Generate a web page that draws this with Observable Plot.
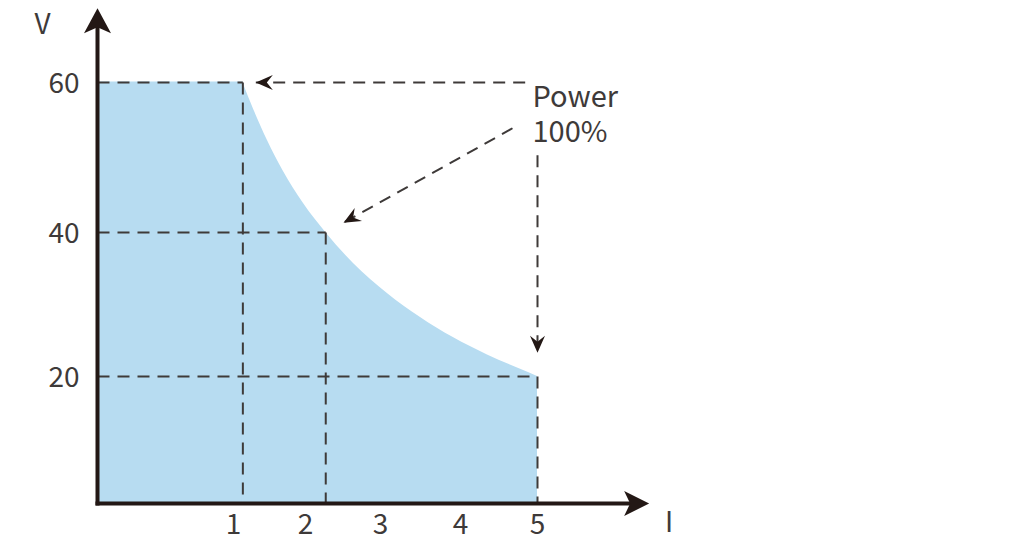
<!DOCTYPE html>
<html>
<head>
<meta charset="utf-8">
<script src="https://cdn.jsdelivr.net/npm/d3@7"></script>
<script src="https://cdn.jsdelivr.net/npm/@observablehq/plot@0.6"></script>
<style>
  html, body { margin: 0; padding: 0; background: #fff; }
  #chart svg { display: block; }
</style>
</head>
<body>
<div id="chart"></div>
<script>
// ---- data (schematic V–I operating envelope) ----
const xTickValues = [1, 2, 3, 4, 5];          // current I tick labels
const yTickValues = [20, 40, 60];             // voltage V tick labels
// boundary of the operating area: constant 60 V up to the corner, then the power curve
const flatI = [0, 1.13];
const flatV = [60, 60];
const curveI = [1.13, 1.28, 1.47, 1.69, 1.97, 2.27, 2.64, 3.09, 3.5, 3.91, 4.35, 4.78, 5];
const curveV = [60, 56.4, 52.3, 48.2, 43.9, 40, 35.7, 31.5, 28.2, 25.4, 23.0, 21.0, 20];
// highlighted corner points (dashed guides)
const cornerI = [1.13, 2.27, 5];
const cornerV = [60, 40, 20];
// "Power 100%" annotation arrows: start -> tip
const arrowFromI = [4.84, 4.675, 5];
const arrowFromV = [60, 53.9, 50.3];
const arrowToI = [1.31, 2.507, 5];
const arrowToV = [60, 41.3, 23.3];
const labelText = "Power\n100%";
const labelI = 4.935;
const labelV = 55.9;
// axis extents (arrow tips)
const axisMaxI = 6.45;
const axisMaxV = 69.9;

// ---- scales (piecewise, schematic spacing) ----
const xDomain = [0, 1, 2, 3, 4, 5];
const xRange = [97, 233, 305, 380, 460, 537];
const yDomain = [0, 20, 40, 60];
const yRange = [503, 376, 232, 82];
const xs = d3.scaleLinear(xDomain, xRange);
const ys = d3.scaleLinear(yDomain, yRange);

const flat = flatI.map((I, i) => ({I, V: flatV[i]}));
const curve = curveI.map((I, i) => ({I, V: curveV[i]}));
const corners = cornerI.map((I, i) => ({I, V: cornerV[i]}));
const arrows = arrowFromI.map((I, i) => ({x1: I, y1: arrowFromV[i], x2: arrowToI[i], y2: arrowToV[i]}));

const FILL = "#b7dcf1";
const AXIS = "#231815";
const INK = "#3e3a39";
const FONT = "'Noto Sans CJK SC', 'Noto Sans', sans-serif";

// notched arrowhead symbol, tip at origin, pointing along (ux, uy) in pixels
function arrowSymbol(ux, uy, L, W, N) {
  const m = Math.hypot(ux, uy); ux /= m; uy /= m;
  const nx = -uy, ny = ux;
  return {
    draw(ctx) {
      ctx.moveTo(0, 0);
      ctx.lineTo(-L * ux + W / 2 * nx, -L * uy + W / 2 * ny);
      ctx.lineTo(-N * ux, -N * uy);
      ctx.lineTo(-L * ux - W / 2 * nx, -L * uy - W / 2 * ny);
      ctx.closePath();
    }
  };
}
function dirOf(a) {
  return [xs(a.x2) - xs(a.x1), ys(a.y2) - ys(a.y1)];
}

const marks = [
  // filled operating area
  Plot.areaY(flat, {x: "I", y: "V", fill: FILL, stroke: FILL, strokeWidth: 1, curve: "linear"}),
  Plot.areaY(curve, {x: "I", y: "V", fill: FILL, curve: "monotone-x"}),
  // dashed guides
  Plot.link(corners, {x1: 0, y1: "V", x2: "I", y2: "V", stroke: INK, strokeWidth: 2, strokeDasharray: "12,8"}),
  Plot.link(corners, {x1: "I", y1: "V", x2: "I", y2: 0, stroke: INK, strokeWidth: 2, strokeDasharray: "12,8"}),
  // annotation arrows
  Plot.link(arrows, {x1: "x1", y1: "y1", x2: "x2", y2: "y2", stroke: INK, strokeWidth: 2, strokeDasharray: "12,8"}),
  ...arrows.map(a => {
    const [dx, dy] = dirOf(a);
    return Plot.dot([a], {x: "x2", y: "y2", r: 6, fill: AXIS, stroke: "none",
      symbol: arrowSymbol(dx, dy, 17, 15, 11)});
  }),
  // axes
  Plot.link([{a: 0}], {x1: 0, y1: 0, x2: axisMaxI - 0.2, y2: 0, stroke: AXIS, strokeWidth: 4, strokeLinecap: "square"}),
  Plot.link([{a: 0}], {x1: 0, y1: 0, x2: 0, y2: axisMaxV - 2.5, stroke: AXIS, strokeWidth: 4, strokeLinecap: "square"}),
  Plot.dot([{I: axisMaxI, V: 0}], {x: "I", y: "V", r: 8, fill: AXIS, stroke: "none", symbol: arrowSymbol(1, 0, 25, 25, 19)}),
  Plot.dot([{I: 0, V: axisMaxV}], {x: "I", y: "V", r: 8, fill: AXIS, stroke: "none", symbol: arrowSymbol(0, -1, 25, 27, 19)}),
  // tick labels
  Plot.text(xTickValues, {x: d => d, y: 0, text: d => String(d), dy: 22, fill: INK, fontSize: 28, fontFamily: FONT, lineAnchor: "middle"}),
  Plot.text(yTickValues, {x: 0, y: d => d, text: d => String(d), dx: -18, dy: 2, textAnchor: "end", fill: INK, fontSize: 28, fontFamily: FONT, lineAnchor: "middle"}),
  // axis titles
  Plot.text(["V"], {x: 0, y: 67.7, text: d => d, dx: -55, fill: INK, fontSize: 28, fontFamily: FONT, lineAnchor: "middle"}),
  Plot.text(["I"], {x: axisMaxI, y: 0, text: d => d, dx: 20, dy: 20, fill: INK, fontSize: 28, fontFamily: FONT, lineAnchor: "middle"}),
  // annotation label
  Plot.text([labelText], {x: labelI, y: labelV, text: d => d, textAnchor: "start", fill: INK, fontSize: 29, lineHeight: 1.2, fontFamily: FONT, lineAnchor: "middle"})
];

const chart = Plot.plot({
  width: 1024,
  height: 550,
  margin: 0,
  style: {background: "#fff", overflow: "visible"},
  x: {type: "linear", domain: xDomain, range: xRange, axis: null},
  y: {type: "linear", domain: yDomain, range: yRange, axis: null},
  marks
});
document.getElementById("chart").appendChild(chart);
</script>
</body>
</html>
